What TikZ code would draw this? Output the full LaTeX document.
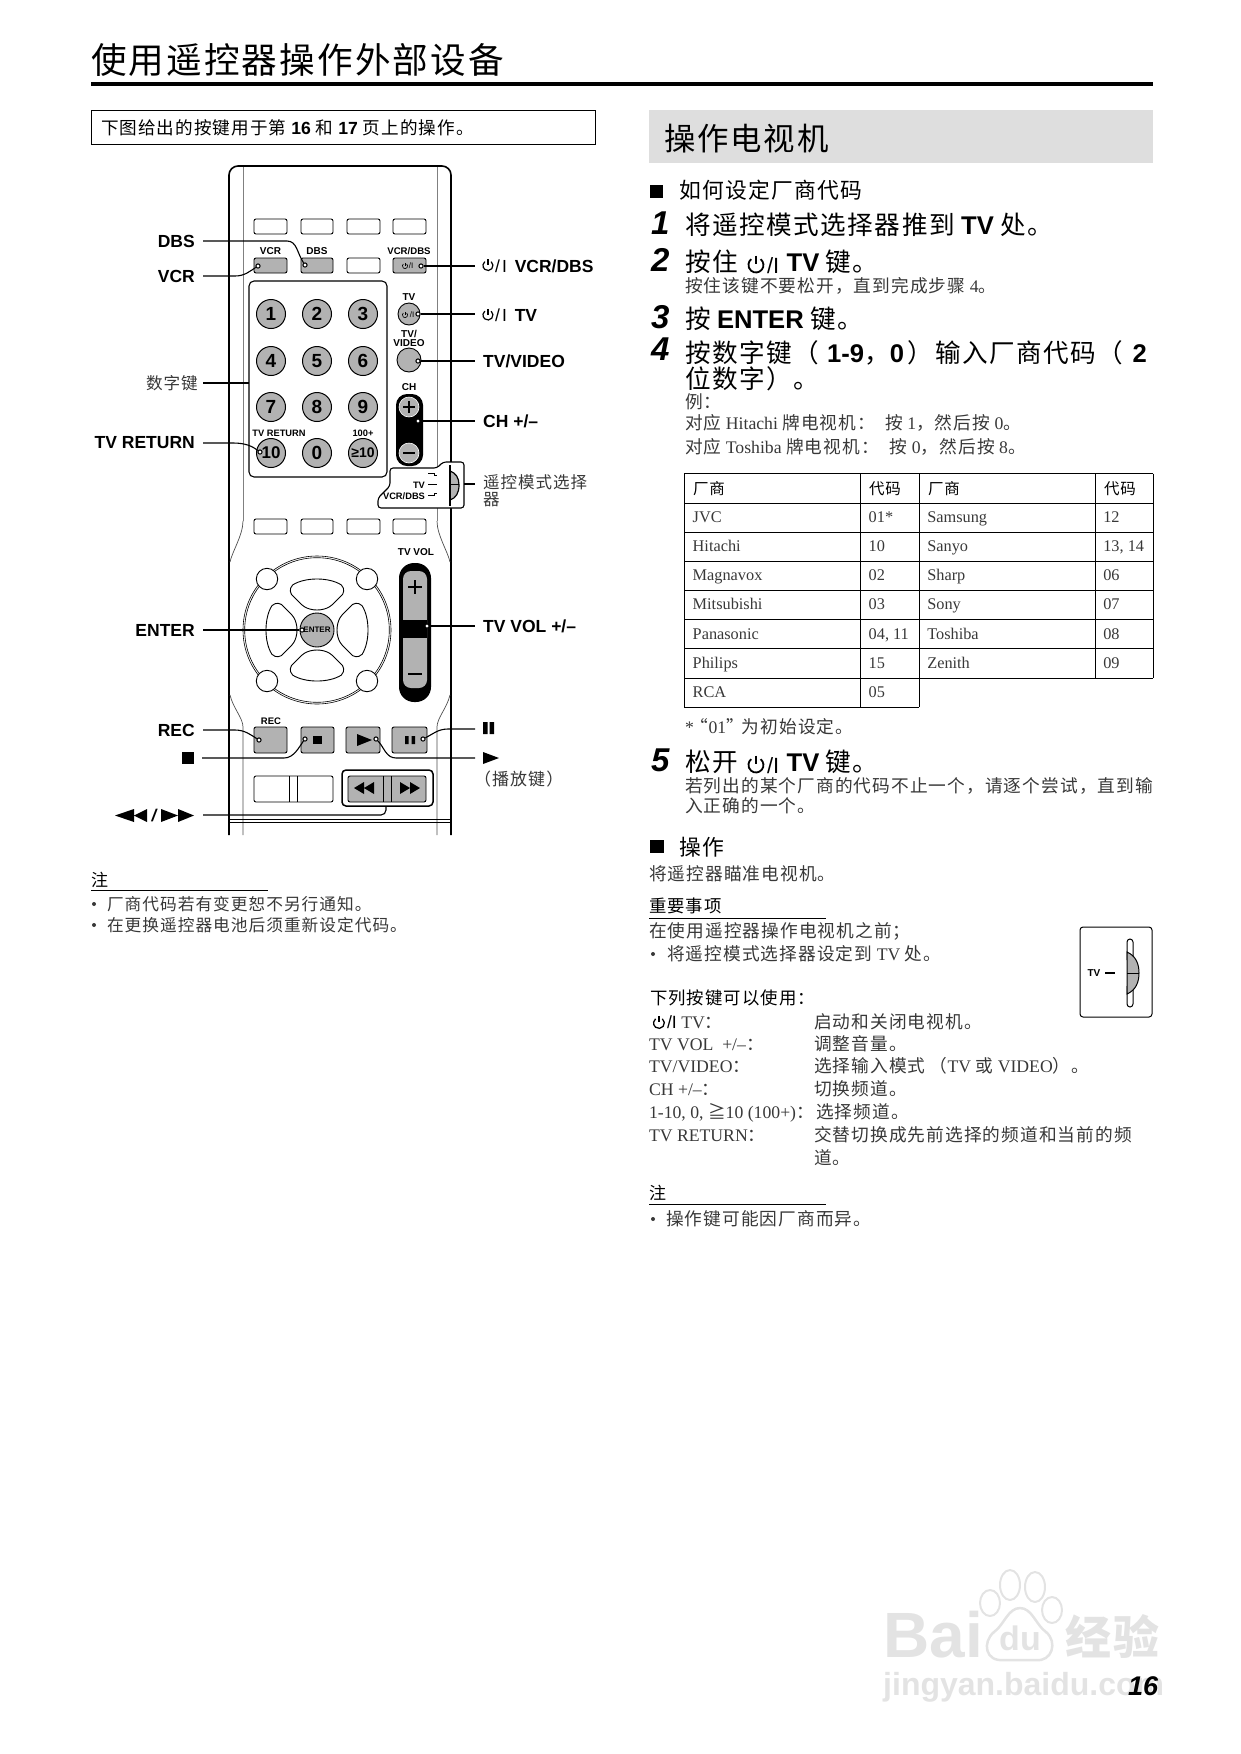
\documentclass[tikz,border=0pt]{standalone}
\usepackage{fontspec}
\setmainfont{Liberation Serif}
\setsansfont{Liberation Sans}
\newfontfamily\cnf[LetterSpace=6]{Noto Sans CJK SC}
\newcommand\fs[1]{\fontsize{#1}{#1}\selectfont}
\newcommand\Z[1]{{\cnf #1}}
\newcommand\B[1]{{\sffamily\bfseries #1}}
\definecolor{btn}{gray}{0.70}
\definecolor{bodyc}{gray}{0.22}
\definecolor{wm}{gray}{0.89}
\newcounter{tn}
\newcommand\T[4]{\stepcounter{tn}\node[#1] (t\thetn) at (#2,#3) {#4};}
\newcommand\pwr[4][black]{\draw[#1,line width=#4*.24pt] ({#2+.62*#4},{#3-.78*#4}) arc[start angle=51,end angle=-231,radius=#4 pt]; \draw[#1,line width=#4*.24pt] (#2,{#3-1.25*#4}) -- (#2,{#3-.1*#4});}
\tikzset{
 tx/.style={inner sep=0pt,outer sep=0pt,anchor=base west},
 body/.style={tx,text=bodyc,font=\fs{17.7}},
 lbody/.style={tx,text=bodyc,font=\fs{16.7}},
 head/.style={tx,font=\fs{25.6}},
 sect/.style={tx,font=\fs{21.8}},
 smallhead/.style={tx,font=\fs{17}},
 stepnum/.style={tx,font=\sffamily\bfseries\itshape\fs{33}},
 tbl/.style={tx,text=bodyc,font=\fs{16.3}},
 rlab/.style={inner sep=0pt,anchor=west,font=\sffamily\bfseries\fs{17.5}},
 llab/.style={inner sep=0pt,anchor=east,font=\sffamily\bfseries\fs{17.5}},
 rem/.style={inner sep=0pt,font=\sffamily\bfseries\fs{10}},
 conn/.style={line width=1.1pt},
 edot/.style={circle,draw,fill=white,line width=1pt,inner sep=0pt,minimum size=4.2pt},
 keyw/.style={draw,line width=.9pt,fill=white,rounded corners=2pt},
 keyg/.style={draw,line width=.9pt,fill=btn,rounded corners=2pt},
 numk/.style={circle,draw,line width=1pt,fill=btn,minimum size=29pt,inner sep=0pt,font=\sffamily\bfseries\fs{19}},
 rule/.style={line width=.8pt},
 wmt/.style={inner sep=0pt,text=wm,font=\sffamily\bfseries},
}
\begin{document}
\begin{tikzpicture}[x=1pt,y=-1pt]
\useasboundingbox (0,0) rectangle (1241,1754);
% ===== page head
\T{tx,font=\fs{35.6}}{91}{73}{\Z{使用遥控器操作外部设备}}
\fill (91,82) rectangle (1153,86);
\draw[line width=.8pt] (91,110) rectangle (595,144);
\T{tx,font=\fs{17.6}}{101}{134}{\Z{下图给出的按键用于第}\B{ 16 }\Z{和}\B{ 17 }\Z{页上的操作。}}
% ===== remote body
\draw[line width=1.6pt,rounded corners=9pt] (229,835) -- (229,166) -- (451,166) -- (451,835);
\draw[gray,line width=1pt] (243,167) -- (243,521);
\draw[gray,line width=1pt] (437,167) -- (437,521);
\draw[black!70,line width=.7pt] (243,521) .. controls (243,535) and (232,552) .. (230,562);
\draw[black!70,line width=.7pt] (437,521) .. controls (437,535) and (448,552) .. (450,562);
\draw[black!70,line width=.7pt] (230,695) .. controls (233,708) and (243,718) .. (243,727) -- (243,835);
\draw[black!70,line width=.7pt] (450,695) .. controls (447,708) and (437,718) .. (437,727) -- (437,835);
\draw[line width=.7pt] (229,819) -- (451,819) (229,822) -- (451,822);
% button rows
\foreach \a/\b in {254/287,301/333,347/380,393/426}{
  \draw[keyw] (\a,219) rectangle (\b,234);
  \draw[keyw] (\a,519) rectangle (\b,534);
}
\draw[keyg] (254,258) rectangle (287,273);
\draw[keyg] (301,258) rectangle (333,273);
\draw[keyw] (347,258) rectangle (380,273);
\draw[keyg] (393,258) rectangle (426,273);
\node[rem] (kVCR) at (270.5,251) {VCR};
\node[rem] (kDBS) at (317,251) {DBS};
\node[rem,font=\sffamily\bfseries\fs{9.6}] (kVD) at (409,251) {VCR/DBS};
\pwr{405}{266}{2.6}
\node[inner sep=0pt,font=\sffamily\fs{8}] (kVDp) at (411,265.5) {/I};
% number panel
\draw[line width=1.1pt,rounded corners=5pt] (249,281) rectangle (387,477);
\foreach \x/\y/\t/\n in {271/314/1/n1,317/314/2/n2,363/314/3/n3,271/361/4/n4,317/361/5/n5,363/361/6/n6,271/407/7/n7,317/407/8/n8,363/407/9/n9,317/453/0/n0}{
  \node[numk] (\n) at (\x,\y) {\t};
}
\node[numk,font=\sffamily\bfseries\fs{17}] (n10) at (271,453) {10};
\node[numk,font=\sffamily\bfseries\fs{14}] (nx) at (363,453) {≥10};
\node[rem,font=\sffamily\bfseries\fs{9.3}] (kTR) at (279,433) {TV RETURN};
\node[rem,font=\sffamily\bfseries\fs{9.3}] (k100) at (363,433) {100+};
% TV buttons
\node[rem] (kTV) at (409,297) {TV};
\node[circle,draw,fill=btn,line width=.9pt,minimum size=22pt,inner sep=0pt] (bTV) at (409,314) {};
\pwr{405}{315}{2.6}
\node[inner sep=0pt,font=\sffamily\fs{8}] (bTVp) at (412,314.5) {/I};
\node[rem] (kTVV1) at (409,334) {TV/};
\node[rem] (kTVV2) at (409,343.5) {VIDEO};
\node[circle,draw,fill=btn,line width=.9pt,minimum size=24pt,inner sep=0pt] (bTVV) at (409,360) {};
\node[rem] (kCH) at (409,387) {CH};
\fill[rounded corners=11pt] (396,394) rectangle (423,466);
\node[circle,draw=white,line width=.6pt,fill=btn,minimum size=20pt,inner sep=0pt] (bCHp) at (409,407) {};
\node[circle,draw=white,line width=.6pt,fill=btn,minimum size=20pt,inner sep=0pt] (bCHm) at (409,453) {};
\draw[line width=1.5pt] (403,407) -- (415,407) (409,401) -- (409,413) (403,453) -- (415,453);
% mode selector
\draw[line width=1.1pt,fill=white,rounded corners=3pt] (378,508) -- (378,498) -- (390,486) -- (390,468) -- (437,468) -- (443,462) -- (464,462) -- (464,508) -- cycle;
\node[rem,font=\sffamily\bfseries\fs{9.3}] (kSelTV) at (419,485) {TV};
\node[rem,font=\sffamily\bfseries\fs{9.3}] (kSelVD) at (404,496) {VCR/DBS};
\draw[line width=.9pt] (428,473) -- (434,473) -- (434,475) -- (437,475);
\draw[line width=.9pt] (428,484.5) -- (437,484.5);
\draw[line width=.9pt] (428,495) -- (434,495) -- (434,493) -- (437,493);
\draw[line width=1.2pt,fill=btn] (450,471) .. controls (456,473) and (459,478) .. (459,485) .. controls (459,493) and (456,498) .. (450,500) -- cycle;
\draw[line width=1.2pt] (450,465) -- (450,506);
\draw[line width=.9pt] (450,484) -- (459,484);
\coordinate (selR) at (464,484);
% navigation
\draw[line width=.6pt] (317,630) circle[radius=74pt];
\draw[line width=.6pt] (317,630) circle[radius=72.3pt];
\foreach \x/\y in {267/579,367/579,267/681,367/681}{
  \draw[line width=.9pt,fill=white] (\x,\y) circle[radius=10.7pt];
}
\foreach \a in {0,90,180,270}{
  \draw[line width=.9pt,rounded corners=2pt,shift={(317,630)},rotate=\a] (-26,-44) .. controls (-12,-53) and (12,-53) .. (26,-44) -- (27,-37) -- (14,-24) .. controls (5,-19) and (-5,-19) .. (-14,-24) -- (-27,-37) -- cycle;
}
\node[circle,draw,fill=btn,line width=.9pt,minimum size=34pt,inner sep=0pt,font=\sffamily\bfseries\fs{8}] (bEnter) at (317,630) {ENTER};
% TV VOL
\node[rem] (kVol) at (416,552) {TV VOL};
\fill[rounded corners=15pt] (399,563) rectangle (431,702);
\fill[btn,rounded corners=8pt] (403,571) -- (427,571) -- (427,635) -- (403,635) -- cycle;
\fill[btn] (403,590) rectangle (427,622);
\fill[black] (403,622) rectangle (427,638);
\fill[btn,rounded corners=8pt] (403,620) -- (427,620) -- (427,688) -- (403,688) -- cycle;
\fill[black] (403,620) rectangle (427,638);
\draw[line width=1.5pt] (408,587) -- (422,587) (415,580) -- (415,594) (408,674) -- (422,674);
% transport
\draw[keyg] (254,727) rectangle (287,753);
\draw[keyg] (301,727) rectangle (334,753);
\draw[keyg] (346,727) rectangle (380,753);
\draw[keyg] (392,727) rectangle (427,753);
\node[rem,font=\sffamily\bfseries\fs{9.5}] (kREC) at (271,721) {REC};
\fill (313,736) rectangle (322,744);
\fill (357,734) -- (372,740) -- (357,746) -- cycle;
\fill (405,736) rectangle (408.5,744) (411.5,736) rectangle (415,744);
% bottom row
\draw[keyw] (254,776) rectangle (333,802);
\draw[line width=.9pt] (289,776) -- (289,802) (297,776) -- (297,802);
\draw[line width=1.5pt,rounded corners=4pt] (342,770) rectangle (433,806);
\draw[keyg] (348,776) rectangle (426,802);
\draw[line width=.9pt] (383,776) -- (383,802) (391,776) -- (391,802);
\fill (354,788) -- (364,782) -- (364,794) -- cycle (364,788) -- (374,782) -- (374,794) -- cycle;
\fill (400,782) -- (410,788) -- (400,794) -- cycle (410,782) -- (420,788) -- (410,794) -- cycle;
\coordinate (ffB) at (386,806);
% labels left
\node[llab] (lDBS) at (195,241) {DBS};
\node[llab] (lVCR) at (195,276) {VCR};
\node[llab,font=\fs{16.6},text=bodyc] (lNum) at (198,383) {\Z{数字键}};
\node[llab] (lTR) at (195,443) {TV RETURN};
\node[llab] (lEN) at (195,630) {ENTER};
\node[llab] (lREC) at (195,730) {REC};
\coordinate (lStop) at (194,758);
\fill (182,752) rectangle (194,764);
\coordinate (lFF) at (194,815);
\fill (115,815.5) -- (134,809) -- (134,822) -- cycle (134,815.5) -- (147,809) -- (147,822) -- cycle;
\fill (161,809) -- (178,815.5) -- (161,822) -- cycle (178,809) -- (194,815.5) -- (178,822) -- cycle;
\node[inner sep=0pt,font=\sffamily\bfseries\itshape\fs{17}] (lSl) at (154,815.5) {/};
% labels right
\node[rlab] (rVD) at (483,266) {\hspace{12pt}{\mdseries /\kern2pt I}\hspace{3pt} VCR/DBS};
\pwr{488}{265.5}{5}
\node[rlab] (rTV) at (483,315) {\hspace{12pt}{\mdseries /\kern2pt I}\hspace{3pt} TV};
\pwr{488}{315}{5}
\node[rlab] (rTVV) at (483,361) {TV/VIDEO};
\node[rlab] (rCH) at (483,421) {CH +/--};
\node[rlab,font=\fs{16.5},text=bodyc] (rSel1) at (483,482) {\Z{遥控模式选择}};
\node[rlab,font=\fs{16.5},text=bodyc] (rSel2) at (483,500) {\Z{器}};
\node[rlab] (rVol) at (483,626) {TV VOL +/--};
\coordinate (rPause) at (483,729);
\fill (483,722) rectangle (487.5,734) (489.5,722) rectangle (494,734);
\coordinate (rPlay) at (483,758);
\fill (483,752) -- (499,758) -- (483,764) -- cycle;
\node[rlab,font=\fs{17},text=bodyc] (rPlayT) at (474,779) {\Z{（播放键）}};
% end dots
\node[edot] (dDBS) at (305,265) {};
\node[edot] (dVCR) at (258,266) {};
\node[edot] (dVD) at (421,266) {};
\node[edot] (dTV) at (418,314) {};
\node[edot] (dTVV) at (418,361) {};
\node[edot] (dCH) at (418,421) {};
\node[edot] (dTR) at (260,452) {};
\node[edot] (dEN) at (302,630) {};
\node[edot] (dVol) at (427,626) {};
\node[edot] (dREC) at (259,740) {};
\node[edot] (dStop) at (305,739) {};
\node[edot] (dPlay) at (376,739) {};
\node[edot] (dPause) at (423,739) {};
% connectors
\draw[conn] ([xshift=8pt]lDBS.east) -- ++(84,0) .. controls +(10,0) and +(-8,-12) .. (dDBS);
\draw[conn] ([xshift=8pt]lVCR.east) -- ++(32,0) .. controls +(10,0) and +(-8,5) .. (dVCR);
\draw[conn] (dVD) -- ([xshift=-8pt]rVD.west);
\draw[conn] (dTV) -- (475,314);
\draw[conn] (dTVV) -- ([xshift=-8pt]rTVV.west);
\draw[conn] (dCH) -- ([xshift=-8pt]rCH.west);
\draw[conn] ([xshift=5pt]lNum.east) -- (249,383);
\draw[conn] ([xshift=8pt]lTR.east) -- ++(30,0) .. controls +(12,0) and +(-8,-6) .. (dTR);
\draw[conn] (selR) -- (475,484);
\draw[conn] ([xshift=8pt]lEN.east) -- (dEN);
\draw[conn] (dVol) -- ([xshift=-8pt]rVol.west);
\draw[conn] ([xshift=8pt]lREC.east) -- ++(32,0) .. controls +(10,0) and +(-8,-5) .. (dREC);
\draw[conn] ([xshift=8pt]lStop) -- ++(82,0) .. controls +(10,0) and +(-6,8) .. (dStop);
\draw[conn] (dPause) .. controls +(10,-5) and +(-10,0) .. (448,729) -- ([xshift=-8pt]rPause);
\draw[conn] (dPlay) .. controls +(8,8) and +(-10,0) .. (396,758) -- ([xshift=-8pt]rPlay);
\draw[conn,rounded corners=5pt] ([xshift=9pt]lFF) -- (386,815) -- (ffB);
% left notes
\T{smallhead}{91}{886}{\Z{注}}
\draw[rule] (91,890) -- (268,890);
\fill[bodyc] (94,904) circle[radius=2pt];
\T{lbody}{107}{910}{\Z{厂商代码若有变更恕不另行通知。}}
\fill[bodyc] (94,925) circle[radius=2pt];
\T{lbody}{107}{931}{\Z{在更换遥控器电池后须重新设定代码。}}
% ===== right column
\fill[black!13] (649,110) rectangle (1153,163);
\T{tx,font=\fs{31.4}}{664}{150}{\Z{操作电视机}}
\fill (650,185) rectangle (663,198);
\T{sect}{679}{198}{\Z{如何设定厂商代码}}
\T{stepnum}{651}{234}{1}
\T{head}{685}{234}{\Z{将遥控模式选择器推到} \B{TV} \Z{处。}}
\T{stepnum}{651}{271}{2}
\T{head}{685}{271}{\Z{按住}\hspace{49pt}\B{TV} \Z{键。}}
\pwr{756}{265}{7.5}
\node[tx,font=\sffamily\fs{22}] (p2) at (767,273) {/I};
\T{body}{685}{292}{\Z{按住该键不要松开，直到完成步骤} 4\Z{。}}
\T{stepnum}{651}{328}{3}
\T{head}{685}{328}{\Z{按} \B{ENTER} \Z{键。}}
\T{stepnum}{651}{360}{4}
\T{head}{685}{362}{\Z{按数字键（}\hspace{8pt}\B{1-9}\Z{，}\B{0}\hspace{4pt}\Z{）输入厂商代码（}\hspace{9pt}\B{2}}
\T{head}{685}{388}{\Z{位数字）。}}
\T{body}{685}{408}{\Z{例：}}
\T{body}{685}{429}{\Z{对应} Hitachi \Z{牌电视机：}\hspace{10pt}\Z{按} 1\Z{，然后按} 0\Z{。}}
\T{body}{685}{453}{\Z{对应} Toshiba \Z{牌电视机：}\hspace{11pt}\Z{按} 0\Z{，然后按} 8\Z{。}}
% table
\draw[line width=.9pt] (684,473.7) -- (1153,473.7);
\foreach \y in {503.3,532.3,561.3,590.3,619.3,648.3,678.3}{ \draw[line width=.9pt] (684,\y) -- (1153,\y); }
\draw[line width=.9pt] (684,707.3) -- (919.3,707.3);
\draw[line width=.9pt] (684.3,473.7) -- (684.3,707.3) (860,473.7) -- (860,707.3) (919.3,473.7) -- (919.3,707.3);
\draw[line width=.9pt] (1095,473.7) -- (1095,678.3) (1153,473.7) -- (1153,678.3);
\T{tx,font=\fs{15.5}}{693}{494}{\Z{厂商}}
\T{tx,font=\fs{15.5}}{869}{494}{\Z{代码}}
\T{tx,font=\fs{15.5}}{928}{494}{\Z{厂商}}
\T{tx,font=\fs{15.5}}{1104}{494}{\Z{代码}}
\foreach \y/\a/\b/\c/\d in {522/JVC/01*/Samsung/12,551/Hitachi/10/Sanyo/{13, 14},580/Magnavox/02/Sharp/06,609/Mitsubishi/03/Sony/07,639/Panasonic/{04, 11}/Toshiba/08,668/Philips/15/Zenith/09}{
  \node[tbl] at (692.7,\y) {\a};
  \node[tbl] at (868.7,\y) {\b};
  \node[tbl] at (927.3,\y) {\c};
  \node[tbl] at (1103.3,\y) {\d};
}
\T{tbl}{692.7}{697}{RCA}
\T{tbl}{868.7}{697}{05}
\T{body}{685}{733}{*\hspace{-3pt}\Z{“}01\Z{”}\hspace{-2pt}\Z{为初始设定。}}
\T{stepnum}{651}{771}{5}
\T{head}{685}{771}{\Z{松开}\hspace{49pt}\B{TV} \Z{键。}}
\pwr{756}{765}{7.5}
\node[tx,font=\sffamily\fs{22}] (p5) at (767,773) {/I};
\T{body}{685}{792}{\Z{若列出的某个厂商的代码不止一个，请逐个尝试，直到输}}
\T{body}{685}{812}{\Z{入正确的一个。}}
\fill (650,840) rectangle (664,853);
\T{sect}{679}{855}{\Z{操作}}
\T{body}{649}{880}{\Z{将遥控器瞄准电视机。}}
\T{tx,font=\fs{17.4}}{649}{912}{\Z{重要事项}}
\draw[rule] (649,918) -- (826,918);
\T{body}{649}{937}{\Z{在使用遥控器操作电视机之前；}}
\fill[bodyc] (653,954) circle[radius=2pt];
\T{body}{667}{960}{\Z{将遥控模式选择器设定到} TV \Z{处。}}
\T{tx,font=\fs{17.4}}{650}{1004}{\Z{下列按键可以使用：}}
\pwr{659}{1023}{5.4}
\T{body}{667}{1028}{{\sffamily\color{black}/I} TV\Z{：}}
\T{body}{814}{1028}{\Z{启动和关闭电视机。}}
\T{body}{649}{1050}{TV VOL\ \ +/--\Z{：}}
\T{body}{814}{1050}{\Z{调整音量。}}
\T{body}{649}{1072}{TV/VIDEO\Z{：}}
\T{body}{814}{1072}{\Z{选择输入模式}\ \Z{（}TV \Z{或} VIDEO\Z{）。}}
\T{body}{649}{1095}{CH +/--\Z{：}}
\T{body}{814}{1095}{\Z{切换频道。}}
\T{body}{649}{1118}{1-10, 0, \Z{≧}10 (100+)\Z{：}}
\T{body}{816}{1118}{\Z{选择频道。}}
\T{body}{649}{1141}{TV RETURN\Z{：}}
\T{body}{814}{1141}{\Z{交替切换成先前选择的频道和当前的频}}
\T{body}{814}{1164}{\Z{道。}}
\T{smallhead}{649}{1199}{\Z{注}}
\draw[rule] (649,1204) -- (826,1204);
\fill[bodyc] (653,1219) circle[radius=2pt];
\T{body}{666}{1225}{\Z{操作键可能因厂商而异。}}
% TV inset
\draw[line width=1pt,rounded corners=3pt] (1080,927) rectangle (1152,1017);
\node[rem] (iTV) at (1094,973) {TV};
\draw[line width=1.3pt] (1105,973) -- (1115,973);
\draw[line width=1pt,rounded corners=3pt] (1127,960) -- (1127,939) -- (1133,939) -- (1133,1007) -- (1127,1007) -- (1127,986);
\draw[line width=1pt,fill=btn] (1127,952) .. controls (1136,956) and (1139,964) .. (1139,973) .. controls (1139,982) and (1136,990) .. (1127,994) -- cycle;
\draw[line width=1pt] (1127,973) -- (1139,973);
% watermark
\foreach \x/\y/\rx/\ry in {1010/1585/10/15,1035/1587/10/15,990/1603/10/13,1052/1610/10/13}{
  \draw[wm,line width=2pt] (\x,\y) ellipse[x radius=\rx pt,y radius=\ry pt];
}
\draw[wm,line width=2.5pt] (1020,1608) .. controls (1032,1608) and (1036,1625) .. (1046,1632) .. controls (1058,1642) and (1052,1662) .. (1036,1660) -- (1004,1660) .. controls (985,1662) and (982,1642) .. (994,1632) .. controls (1004,1625) and (1008,1608) .. (1020,1608);
\node[wmt,anchor=base west,font=\sffamily\bfseries\fs{64}] (wB) at (883,1657) {Bai};
\node[wmt,font=\sffamily\bfseries\fs{34}] (wD) at (1020,1638) {du};
\node[wmt,anchor=base west,font=\bfseries\fs{46}] (wC) at (1065,1654) {\cnf 经验};
\node[wmt,anchor=base west,font=\sffamily\bfseries\fs{32}] (wJ) at (883,1695) {jingyan.baidu.com};
\node[tx,font=\sffamily\bfseries\itshape\fs{27}] (pg) at (1128,1695) {16};
\end{tikzpicture}
\end{document}
